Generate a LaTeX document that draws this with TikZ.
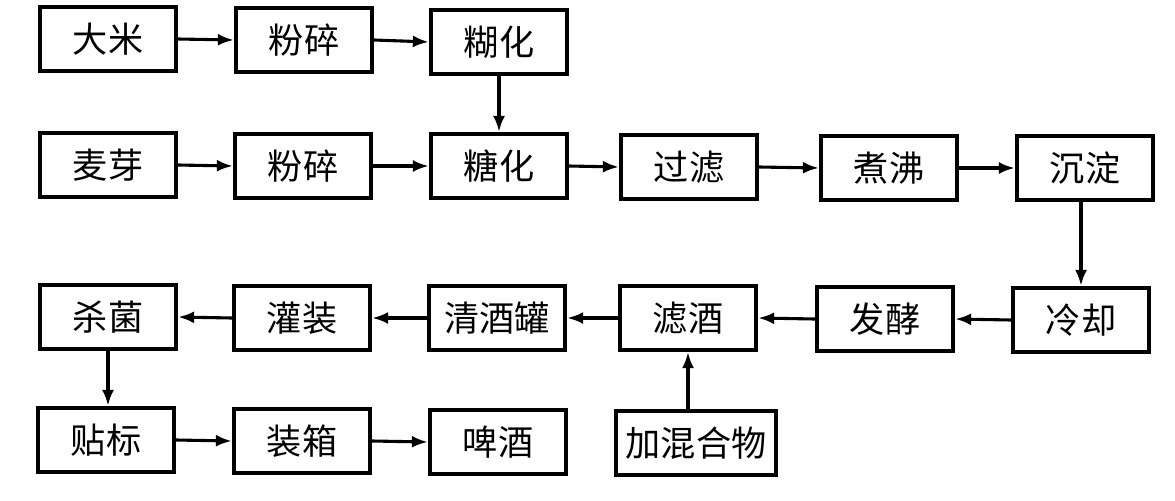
\documentclass[tikz,border=0pt]{standalone}
\usepackage{fontspec}
\setmainfont{Noto Sans CJK SC}
\usepackage{tikz}
\usetikzlibrary{arrows.meta}
\tikzset{
  gongxu/.style={draw,line width=3pt,minimum width=3.4cm,minimum height=1.6cm,inner sep=0pt,font=\fontsize{25}{30}\selectfont},
  liu/.style={-{Latex[length=4mm,width=3mm]},line width=2.2pt}
}

\begin{document}
\begin{tikzpicture}[x=0.025cm,y=-0.025cm]
\useasboundingbox (0,0) rectangle (1175,500);
% row 1
\node[gongxu] (dami) at (108,39) {大米};
\node[gongxu] (fensuiA) at (304,40) {粉碎};
\node[gongxu] (huhua) at (499,42) {糊化};
% row 2
\node[gongxu] (maiya) at (108,165) {麦芽};
\node[gongxu] (fensuiB) at (303,166) {粉碎};
\node[gongxu] (tanghua) at (499,166) {糖化};
\node[gongxu] (guolv) at (689,167) {过滤};
\node[gongxu] (zhufei) at (889,168) {煮沸};
\node[gongxu] (chendian) at (1085,168) {沉淀};
% row 3
\node[gongxu] (lengque) at (1081,320) {冷却};
\node[gongxu] (fajiao) at (885,319) {发酵};
\node[gongxu] (lvjiu) at (688,318) {滤酒};
\node[gongxu] (qingjiu) at (497,318) {清酒罐};
\node[gongxu] (guanzhuang) at (302,318) {灌装};
\node[gongxu] (shajun) at (108,317) {杀菌};
% row 4
\node[gongxu] (tiebiao) at (106,440) {贴标};
\node[gongxu] (zhuangxiang) at (302,441) {装箱};
\node[gongxu] (pijiu) at (498,442) {啤酒};
\node[gongxu,minimum width=4cm] (hunhe) at (696,443) {加混合物};

\draw[liu] (dami.east) -- (fensuiA.west);
\draw[liu] (fensuiA.east) -- (huhua.west);
\draw[liu] (huhua.south) -- (tanghua.north);
\draw[liu] (maiya.east) -- (fensuiB.west);
\draw[liu] (fensuiB.east) -- (tanghua.west);
\draw[liu] (tanghua.east) -- (guolv.west);
\draw[liu] (guolv.east) -- (zhufei.west);
\draw[liu] (zhufei.east) -- (chendian.west);
\draw[liu] (chendian.south -| lengque.south) -- (lengque.north);
\draw[liu] (lengque.west) -- (fajiao.east);
\draw[liu] (fajiao.west) -- (lvjiu.east);
\draw[liu] (lvjiu.west) -- (qingjiu.east);
\draw[liu] (qingjiu.west) -- (guanzhuang.east);
\draw[liu] (guanzhuang.west) -- (shajun.east);
\draw[liu] (hunhe.north -| lvjiu.south) -- (lvjiu.south);
\draw[liu] (shajun.south) -- (shajun.south |- tiebiao.north);
\draw[liu] (tiebiao.east) -- (zhuangxiang.west);
\draw[liu] (zhuangxiang.east) -- (pijiu.west);
\end{tikzpicture}
\end{document}
